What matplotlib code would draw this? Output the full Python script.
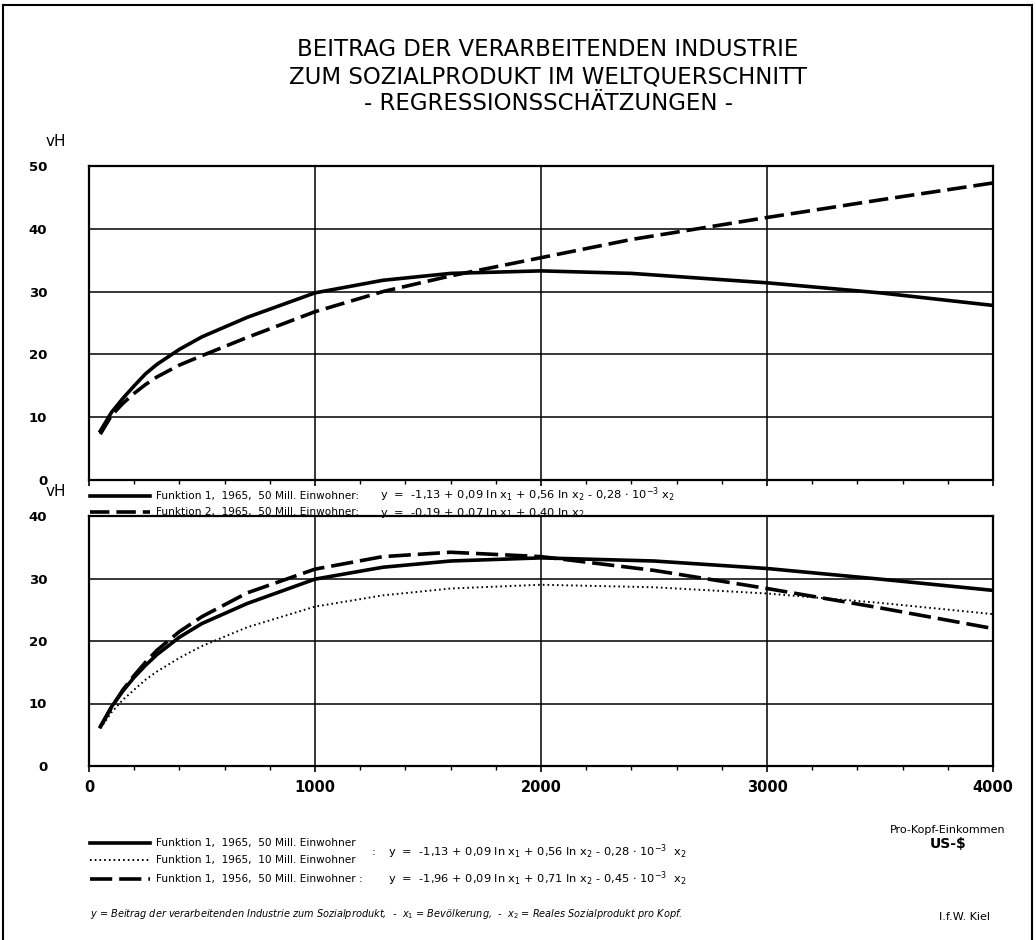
import matplotlib
matplotlib.use("Agg")
from matplotlib import pyplot as plt
from matplotlib.lines import Line2D
import numpy as np

plt.rcParams['font.family'] = ['DejaVu Sans']
plt.rcParams['mathtext.fontset'] = 'dejavusans'
plt.rcParams['lines.scale_dashes'] = False

# income per head (US-$)
x_top = [50, 100, 150, 200, 250, 300, 400, 500, 700, 1000, 1300, 1600, 2000, 2400, 3000, 3500, 4000]
f1_1965_50 = [7.8, 10.8, 13.0, 15.0, 16.9, 18.4, 20.8, 22.8, 25.9, 29.8, 31.8, 32.9, 33.3, 32.9, 31.4, 29.8, 27.8]
f2_1965_50 = [7.3, 10.3, 12.2, 13.8, 15.2, 16.4, 18.3, 19.8, 22.7, 26.8, 30.0, 32.5, 35.4, 38.3, 41.8, 44.6, 47.3]

x_bot = [50, 100, 150, 200, 250, 300, 400, 500, 700, 1000, 1300, 1600, 2000, 2500, 3000, 3500, 4000]
b_1965_50 = [6.3, 9.5, 12.0, 14.2, 16.1, 17.8, 20.6, 22.8, 26.0, 29.9, 31.8, 32.8, 33.3, 32.8, 31.6, 29.9, 28.1]
b_1965_10 = [6.0, 8.6, 10.6, 12.2, 13.8, 15.1, 17.3, 19.2, 22.2, 25.5, 27.3, 28.4, 29.0, 28.6, 27.6, 26.1, 24.3]
b_1956_50 = [6.2, 9.4, 12.2, 14.5, 16.6, 18.5, 21.5, 23.9, 27.7, 31.5, 33.5, 34.2, 33.5, 31.3, 28.4, 25.3, 22.0]

title_lines = ["BEITRAG DER VERARBEITENDEN INDUSTRIE",
               "ZUM SOZIALPRODUKT IM WELTQUERSCHNITT",
               "- REGRESSIONSSCHÄTZUNGEN -"]

W, H = 1036, 940
fig = plt.figure(figsize=(W / 100, H / 100), dpi=100)


def fx(px):
    return px / W


def fy(py):
    return 1 - py / H


def style_axes(ax, ymax, xlabels):
    ax.set_xlim(0, 4000)
    ax.set_ylim(0, ymax)
    ax.set_xticks([0, 1000, 2000, 3000, 4000])
    ax.set_yticks(range(0, ymax + 1, 10))
    ax.set_xticks(np.arange(0, 4001, 200), minor=True)
    ax.grid(True, which='major', color='black', lw=1.1)
    for s in ax.spines.values():
        s.set_linewidth(1.6)
    ax.tick_params(axis='y', length=0, pad=30, labelsize=9.5)
    ax.tick_params(axis='x', which='major', length=4, width=1.2, pad=6, labelsize=10.5)
    ax.tick_params(axis='x', which='minor', length=3, width=1)
    for lab in ax.get_yticklabels():
        lab.set_fontweight('bold')
    if not xlabels:
        ax.set_xticklabels([])


# top panel
ax1 = fig.add_axes([fx(89), fy(480), fx(993 - 89), fy(166) - fy(480)])
ax1.plot(x_top, f1_1965_50, color='black', lw=2.6, solid_joinstyle='round')
ax1.plot(x_top, f2_1965_50, color='black', lw=2.6, dashes=(14, 5))
style_axes(ax1, 50, False)
fig.text(fx(46), fy(142), "vH", fontsize=11, ha='left', va='center')

# bottom panel
ax2 = fig.add_axes([fx(89), fy(766), fx(993 - 89), fy(516) - fy(766)])
ax2.plot(x_bot, b_1965_50, color='black', lw=2.6, solid_joinstyle='round')
ax2.plot(x_bot, b_1965_10, color='black', lw=1.4, dashes=(1.2, 2.2))
ax2.plot(x_bot, b_1956_50, color='black', lw=2.6, dashes=(16, 5))
style_axes(ax2, 40, True)
for lab in ax2.get_xticklabels():
    lab.set_fontweight('bold')
fig.text(fx(46), fy(492), "vH", fontsize=11, ha='left', va='center')

# title
for i, t in enumerate(title_lines):
    fig.text(fx(548), fy(50 + i * 27), t, fontsize=16.5, ha='center', va='center')

# legend top
fs = 7.6
fe = 8.2
fig.add_artist(Line2D([fx(90), fx(150)], [fy(496), fy(496)], color='black', lw=2.6))
fig.add_artist(Line2D([fx(90), fx(150)], [fy(512), fy(512)], color='black', lw=2.6, dashes=(14, 5)))
fig.text(fx(156), fy(496), "Funktion 1,  1965,  50 Mill. Einwohner:", fontsize=fs, va='center')
fig.text(fx(156), fy(512), "Funktion 2,  1965,  50 Mill. Einwohner:", fontsize=fs, va='center')
fig.text(fx(380), fy(495), r"y  =  -1,13 + 0,09 ln x$_1$ + 0,56 ln x$_2$ - 0,28 $\cdot$ 10$^{-3}$ x$_2$",
         fontsize=fe, va='center')
fig.text(fx(380), fy(513), r"y  =  -0,19 + 0,07 ln x$_1$ + 0,40 ln x$_2$", fontsize=fe, va='center')

# legend bottom
fig.add_artist(Line2D([fx(90), fx(150)], [fy(843), fy(843)], color='black', lw=2.6))
fig.add_artist(Line2D([fx(90), fx(150)], [fy(860), fy(860)], color='black', lw=1.4, dashes=(1.2, 2.2)))
fig.add_artist(Line2D([fx(90), fx(150)], [fy(879), fy(879)], color='black', lw=2.6, dashes=(16, 5)))
fig.text(fx(156), fy(843), "Funktion 1,  1965,  50 Mill. Einwohner", fontsize=fs, va='center')
fig.text(fx(156), fy(860), "Funktion 1,  1965,  10 Mill. Einwohner", fontsize=fs, va='center')
fig.text(fx(156), fy(879), "Funktion 1,  1956,  50 Mill. Einwohner :", fontsize=fs, va='center')
fig.text(fx(372), fy(852), ":", fontsize=fe, va='center')
fig.text(fx(388), fy(852), r"y  =  -1,13 + 0,09 ln x$_1$ + 0,56 ln x$_2$ - 0,28 $\cdot$ 10$^{-3}$  x$_2$",
         fontsize=fe, va='center')
fig.text(fx(388), fy(879), r"y  =  -1,96 + 0,09 ln x$_1$ + 0,71 ln x$_2$ - 0,45 $\cdot$ 10$^{-3}$  x$_2$",
         fontsize=fe, va='center')

fig.text(fx(948), fy(830), "Pro-Kopf-Einkommen", fontsize=8, ha='center', va='center')
fig.text(fx(948), fy(844), "US-$", fontsize=10, ha='center', va='center', fontweight='bold')

fig.text(fx(90), fy(914),
         r"y = Beitrag der verarbeitenden Industrie zum Sozialprodukt,  -  x$_1$ = Bevölkerung,  -  x$_2$ = Reales Sozialprodukt pro Kopf.",
         fontsize=7, style='italic', va='center')
fig.text(fx(990), fy(917), "I.f.W. Kiel", fontsize=8, ha='right', va='center')

# page border
fig.add_artist(Line2D([fx(3), fx(3)], [fy(5), 0], color='black', lw=1.5))
fig.add_artist(Line2D([fx(3), fx(1032)], [fy(5), fy(5)], color='black', lw=1.5))
fig.add_artist(Line2D([fx(1032), fx(1032)], [fy(5), 0], color='black', lw=1.5))

fig.savefig("out.png", dpi=100)
